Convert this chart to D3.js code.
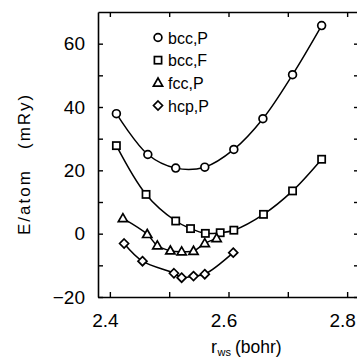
<!DOCTYPE html>
<html><head><meta charset="utf-8">
<script src="https://cdn.jsdelivr.net/npm/d3@7"></script>
<style>
body{margin:0;background:#fff;}
svg{display:block;font-family:"Liberation Sans",Arial,Helvetica,sans-serif;}
</style></head>
<body><svg id="c" width="357" height="360"></svg>
<script>
// ---- data ----
const bccP_r = [2.411, 2.464, 2.511, 2.560, 2.609, 2.658, 2.708, 2.757];
const bccP_E = [37.9, 25.0, 20.7, 21.0, 26.6, 36.3, 50.2, 65.7];
const bccF_r = [2.411, 2.461, 2.511, 2.536, 2.561, 2.586, 2.609, 2.659, 2.708, 2.757];
const bccF_E = [27.8, 12.4, 4.0, 1.6, 0.1, 0.3, 1.1, 6.1, 13.5, 23.5];
const fccP_r = [2.422, 2.463, 2.480, 2.502, 2.521, 2.541, 2.560, 2.580];
const fccP_E = [4.8, -0.2, -3.8, -5.4, -5.7, -5.5, -3.1, -1.5];
const hcpP_r = [2.424, 2.455, 2.508, 2.521, 2.541, 2.560, 2.608];
const hcpP_E = [-3.1, -8.7, -12.5, -13.9, -13.4, -12.8, -6.0];
const seriesNames = ["bcc,P", "bcc,F", "fcc,P", "hcp,P"];
const xTicks = [2.4, 2.5, 2.6, 2.7, 2.8];
const xTickLabels = [2.4, 2.6, 2.8];
const yTicks = [-20, -10, 0, 10, 20, 30, 40, 50, 60];
const yTickLabels = [-20, 0, 20, 40, 60];

const series = [
  {name: seriesNames[0], r: bccP_r, E: bccP_E, sym: "circle"},
  {name: seriesNames[1], r: bccF_r, E: bccF_E, sym: "square"},
  {name: seriesNames[2], r: fccP_r, E: fccP_E, sym: "triangle"},
  {name: seriesNames[3], r: hcpP_r, E: hcpP_E, sym: "diamond"}
];

const svg = d3.select("#c");
const x = d3.scaleLinear().domain([2.38, 2.82]).range([98, 359]);
const y = d3.scaleLinear().domain([-20, 70]).range([297, 12]);

const fmtY = d3.format("d");
const fmtX = d3.format(".1f");

// axes
const gB = svg.append("g").attr("transform", `translate(0,${y(-20)})`)
  .call(d3.axisBottom(x).tickValues(xTicks).tickSizeInner(-5).tickSizeOuter(0).tickPadding(17)
    .tickFormat(d => xTickLabels.some(v => Math.abs(v - d) < 1e-9) ? fmtX(d) : ""));
const gT = svg.append("g").attr("transform", `translate(0,${y(70)})`)
  .call(d3.axisTop(x).tickValues(xTicks).tickSizeInner(-5).tickSizeOuter(0).tickFormat(""));
const gL = svg.append("g").attr("transform", `translate(${x(2.38)},0)`)
  .call(d3.axisLeft(y).tickValues(yTicks).tickSizeInner(-5).tickSizeOuter(0).tickPadding(13)
    .tickFormat(d => yTickLabels.includes(d) ? fmtY(d) : ""));
const gR = svg.append("g").attr("transform", `translate(${x(2.82)},0)`)
  .call(d3.axisRight(y).tickValues(yTicks).tickSizeInner(-5).tickSizeOuter(0).tickFormat(""));

[gB, gT, gL, gR].forEach(g => {
  g.select(".domain").attr("stroke", "#000").attr("stroke-width", 1.6);
  g.selectAll(".tick line").attr("stroke", "#000").attr("stroke-width", 1.4);
  g.selectAll("text").attr("fill", "#000").attr("font-size", 19)
    .attr("font-family", "'Liberation Sans',Arial,sans-serif");
});
gB.selectAll("text").attr("dx", -5);

// axis titles
const xt = svg.append("text").attr("x", 211).attr("y", 353)
  .attr("font-size", 18).attr("fill", "#000");
xt.append("tspan").text("r");
xt.append("tspan").attr("font-size", 11).attr("dy", 3).attr("dx", 0.5).text("ws");
xt.append("tspan").attr("dy", -3).attr("x", 235).attr("font-size", 17.5).text("(bohr)");

svg.append("text").attr("transform", "translate(30,235) rotate(-90)")
  .attr("text-anchor", "start").attr("font-size", 17).attr("fill", "#000")
  .attr("letter-spacing", 2)
  .attr("xml:space", "preserve").style("white-space", "pre")
  .text("E/atom   (mRy)");

// curves
const line = d3.line().curve(d3.curveCatmullRom.alpha(0.5));
series.forEach(s => {
  const pts = s.r.map((r, i) => [x(r), y(s.E[i])]);
  svg.append("path").attr("d", line(pts)).attr("fill", "none")
    .attr("stroke", "#000").attr("stroke-width", 1.5);
});

function marker(g, sym, cx, cy) {
  let el;
  if (sym === "circle") el = g.append("circle").attr("cx", cx).attr("cy", cy).attr("r", 3.9);
  else if (sym === "square") el = g.append("rect").attr("x", cx - 3.6).attr("y", cy - 3.6).attr("width", 7.2).attr("height", 7.2);
  else if (sym === "triangle") el = g.append("path").attr("d", `M${cx},${cy - 4.8}L${cx + 4.6},${cy + 3.2}L${cx - 4.6},${cy + 3.2}Z`);
  else el = g.append("path").attr("d", `M${cx},${cy - 4.5}L${cx + 4.5},${cy}L${cx},${cy + 4.5}L${cx - 4.5},${cy}Z`);
  el.attr("fill", "#fff").attr("stroke", "#000").attr("stroke-width", 1.7);
}

series.forEach(s => {
  const g = svg.append("g");
  s.r.forEach((r, i) => marker(g, s.sym, x(r), y(s.E[i])));
});

// legend
const legY = d3.scalePoint().domain(seriesNames).range([37.5, 105.5]);
series.forEach(s => {
  marker(svg, s.sym, 158, legY(s.name));
  svg.append("text").attr("x", 168).attr("y", legY(s.name) + 6)
    .attr("font-size", 16).attr("fill", "#000").text(s.name);
});
</script></body></html>
